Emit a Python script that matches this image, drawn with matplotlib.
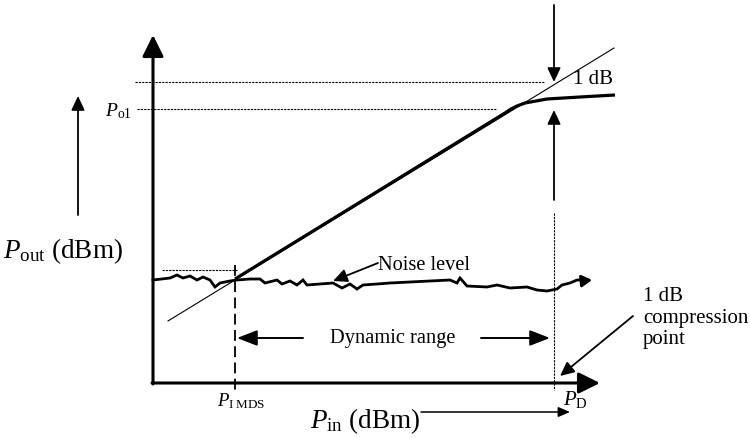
import matplotlib.pyplot as plt

plt.rcParams['font.family'] = 'Liberation Serif'
plt.rcParams['mathtext.fontset'] = 'custom'
plt.rcParams['mathtext.rm'] = 'Liberation Serif'
plt.rcParams['mathtext.it'] = 'Liberation Serif:italic'

# schematic drawn in picture units (x to the right, y downwards)
origin = (153, 383)
x_axis_end = 600
y_axis_end = 35

# ideal linear response (thin) and real response (thick)
ideal_x = [168, 614]
ideal_y = [321, 48]
resp_x = [235, 505, 511, 517, 525, 547, 580, 615]
resp_y = [279, 113, 109, 106, 103, 99, 97, 95]

# noise floor trace
noise_x = [153, 170, 177, 183, 190, 197, 203, 210, 215, 220, 230, 237, 250, 260, 265,
           277, 282, 290, 297, 303, 307, 333, 342, 350, 357, 363, 377, 390, 410, 430,
           450, 457, 460, 467, 487, 497, 510, 527, 537, 547, 557, 562, 570, 577, 588]
noise_y = [280, 278, 275, 278, 276, 280, 277, 280, 287, 283, 281, 280, 279, 279, 283,
           280, 284, 281, 285, 280, 285, 283, 288, 284, 289, 285, 284, 283, 282, 281,
           280, 283, 278, 286, 287, 285, 288, 287, 290, 291, 289, 285, 283, 280, 280]

x_mds = 235
x_d = 554
y_o1 = 109
y_top = 82

fig = plt.figure(figsize=(7.5, 4.38), dpi=100)
ax = fig.add_axes([0, 0, 1, 1])
ax.set_xlim(0, 750)
ax.set_ylim(438, 0)
ax.axis('off')


def arrow(x0, y0, x1, y1, lw=1.5, hl=0.85, hw=0.4, ms=10):
    ax.annotate('', xy=(x1, y1), xytext=(x0, y0),
                arrowprops=dict(arrowstyle=f'-|>,head_length={hl},head_width={hw}',
                                lw=lw, color='k', mutation_scale=ms,
                                shrinkA=0, shrinkB=0))


# axes
arrow(origin[0], origin[1] + 1, origin[0], y_axis_end, lw=2.2, hl=0.93, hw=0.46, ms=14)
arrow(origin[0] - 1, origin[1], x_axis_end, origin[1], lw=2.2, hl=0.93, hw=0.46, ms=14)
arrow(78, 215, 78, 96, lw=1.3, hl=0.85, hw=0.4)

# reference lines
ax.plot([135, 545], [y_top, y_top], ls=(0, (2, 1)), lw=0.8, color='k')
ax.plot([137, 497], [y_o1, y_o1], ls=(0, (2, 1)), lw=0.8, color='k')
ax.plot([162, 237], [270, 270], ls=(0, (2, 1)), lw=0.8, color='k')
ax.plot([x_mds, x_mds], [265, 394], ls=(0, (6, 3)), lw=1.3, color='k')
ax.plot([x_d, x_d], [213, 390], ls=(0, (2, 1)), lw=0.8, color='k')

# responses
ax.plot(ideal_x, ideal_y, lw=0.8, color='k')
ax.plot(resp_x, resp_y, lw=2.3, color='k', solid_capstyle='butt')
ax.plot(noise_x, noise_y, lw=2.0, color='k', solid_joinstyle='miter')
arrow(582, 281, 592, 280, lw=2.0, hl=0.6, hw=0.35, ms=10)

# 1 dB arrows
arrow(x_d, 5, x_d, y_top, lw=1.3)
arrow(x_d, 200, x_d, y_o1 + 1, lw=1.3)

# dynamic range
arrow(303, 338, x_mds + 2, 338, lw=1.4, hl=0.88, hw=0.34, ms=14)
arrow(481, 338, x_d - 4, 338, lw=1.4, hl=0.88, hw=0.34, ms=14)
ax.text(393, 338, 'Dynamic range', ha='center', va='center', fontsize=14.7)

# noise label
arrow(378, 263, 333, 281, lw=1.3)
ax.text(378, 265, 'Noise level', ha='left', va='center', fontsize=14.7)

# compression point label
ax.text(643, 318, '1 dB\ncompression\npoint', ha='left', va='center', fontsize=15,
        linespacing=1.2)
arrow(633, 316, 560, 376, lw=1.3)

ax.text(593, 80, '1 dB', ha='center', va='center', fontsize=15)

# axis labels
ax.text(132, 111, r'$P_{\rm o1}$', ha='right', va='center', fontsize=14)
ax.text(3, 251, r'$P_{\rm out}$ (dBm)', ha='left', va='center', fontsize=19.5)
ax.text(310, 421, r'$P_{\rm in}$ (dBm)', ha='left', va='center', fontsize=19.5)
arrow(421, 412, 570, 412, lw=1.1, hl=0.7, hw=0.3, ms=10)
ax.text(x_mds + 6, 401, r'$P_{\rm I\;MDS}$', ha='center', va='center', fontsize=13.5)
ax.text(575, 400, r'$P_{\rm D}$', ha='center', va='center', fontsize=15)

fig.savefig('out.png', dpi=100)
